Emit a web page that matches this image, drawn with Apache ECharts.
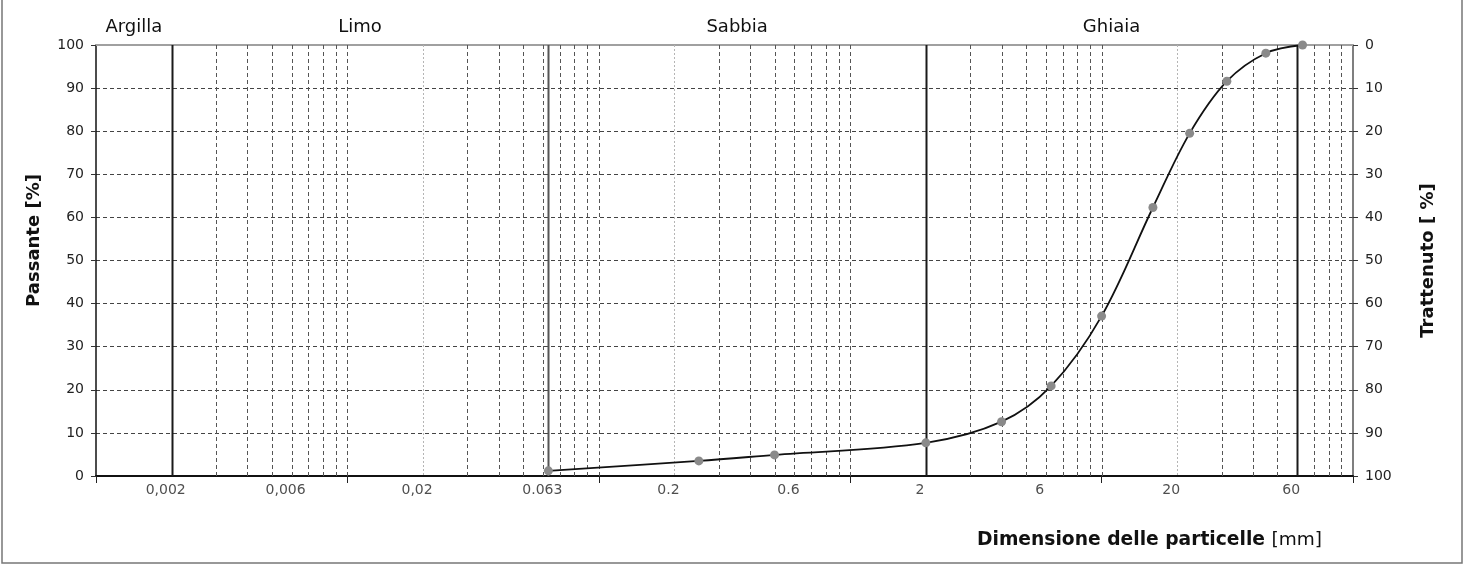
<!DOCTYPE html>
<html><head><meta charset="utf-8">
<script src="https://cdn.jsdelivr.net/npm/echarts@6/dist/echarts.min.js"></script>
<style>html,body{margin:0;padding:0;background:#fff}#c{width:1468px;height:576px}</style>
</head><body><div id="c"></div>
<script>
// ---- data ----
const sieveSizes = [0.063, 0.25, 0.5, 2, 4, 6.3, 10, 16, 22.4, 31.5, 45, 63];
const passing    = [1.2, 3.5, 4.9, 7.7, 12.6, 20.9, 37.1, 62.3, 79.5, 91.6, 98.1, 100];
const xTickValues = [0.002, 0.006, 0.02, 0.063, 0.2, 0.6, 2, 6, 20, 60];
const xTickLabels = ['0,002', '0,006', '0,02', '0.063', '0.2', '0.6', '2', '6', '20', '60'];
const classNames  = ['Argilla', 'Limo', 'Sabbia', 'Ghiaia'];
const classBounds = [0.001, 0.002, 0.063, 2, 60];
const xMin = 0.001, xMax = 100;

const FONT = 'DejaVu Sans';

// vertical grid lines: kind 0 = dashed dark, 1 = light dotted (2x), 2 = class boundary
const vLines = [];
for (let e = -3; e <= 1; e++) {
  for (let m = 1; m <= 9; m++) {
    if (e === -3 && m === 1) continue;
    const v = Number((m * Math.pow(10, e)).toPrecision(3));
    vLines.push([v, 0, m === 2 ? 1 : 0]);
  }
}
classBounds.slice(1).forEach(v => vLines.push([v, 0, v === 0.063 ? 3 : 2]));
const vStyles = [
  { stroke: '#555', lineWidth: 1, lineDash: [4, 3] },
  { stroke: '#b5b5b5', lineWidth: 1, lineDash: [2, 2] },
  { stroke: '#1a1a1a', lineWidth: 2 },
  { stroke: '#555', lineWidth: 2 }
];
const classAreas = classNames.map((n, i) => [
  { xAxis: classBounds[i], name: n }, { xAxis: classBounds[i + 1] }
]);

const chart = echarts.init(document.getElementById('c'), null, { renderer: 'canvas' });
chart.setOption({
  animation: false,
  backgroundColor: '#fff',
  textStyle: { fontFamily: FONT },
  grid: { left: 96, right: 115, top: 45, bottom: 100 },
  graphic: [{
    type: 'rect', shape: { x: 2, y: -4, width: 1460, height: 567 },
    style: { fill: 'none', stroke: '#777', lineWidth: 1.5 }, silent: true, z: -1
  }],
  xAxis: [{
    type: 'log', logBase: 10, min: xMin, max: xMax,
    axisLine: { show: true, lineStyle: { color: '#111', width: 2 } },
    axisTick: { show: true, length: 7, lineStyle: { color: '#222', width: 1 } },
    axisLabel: { show: false },
    splitLine: { show: false },
    name: '{b|Dimensione delle particelle }{r|[mm]}',
    nameLocation: 'end', nameGap: -31,
    nameTextStyle: {
      align: 'right', verticalAlign: 'top', padding: [55, 0, 0, 0],
      rich: {
        b: { fontFamily: FONT, fontWeight: 'bold', fontSize: 18.7, color: '#111' },
        r: { fontFamily: FONT, fontSize: 18.5, color: '#111' }
      }
    }
  }, {
    type: 'log', logBase: 10, min: xMin, max: xMax, position: 'top',
    axisLine: { show: true, lineStyle: { color: '#a0a0a0', width: 2 } },
    axisTick: { show: false }, axisLabel: { show: false }, splitLine: { show: false }
  }],
  yAxis: [{
    type: 'value', min: 0, max: 100, interval: 10, position: 'left',
    axisLine: { show: true, lineStyle: { color: '#111', width: 1.5 } },
    axisTick: { show: true, length: 5, lineStyle: { color: '#333' } },
    axisLabel: { fontSize: 14, color: '#222', margin: 12, fontFamily: FONT },
    splitLine: { show: true, lineStyle: { color: '#444', width: 1, type: [4, 3] } },
    name: 'Passante [%]', nameLocation: 'middle', nameGap: 53,
    nameTextStyle: { fontFamily: FONT, fontWeight: 'bold', fontSize: 18, color: '#111', padding: [0, 0, 0, 40] }
  }, {
    type: 'value', min: 0, max: 100, interval: 10, position: 'right', inverse: true,
    axisLine: { show: true, lineStyle: { color: '#555', width: 1.5 } },
    axisTick: { show: true, length: 5, lineStyle: { color: '#333' } },
    axisLabel: { fontSize: 14, color: '#222', margin: 12, fontFamily: FONT },
    splitLine: { show: false },
    name: 'Trattenuto [ %]', nameLocation: 'middle', nameGap: 66,
    nameTextStyle: { fontFamily: FONT, fontWeight: 'bold', fontSize: 18, color: '#111' }
  }],
  series: [{
    name: 'grid', type: 'custom', xAxisIndex: 0, yAxisIndex: 0, z: 1, silent: true,
    encode: { x: 0, y: 1 },
    data: vLines,
    renderItem: (params, api) => {
      const v = api.value(0);
      const p1 = api.coord([v, 100]);
      const p2 = api.coord([v, 0]);
      return {
        type: 'line', silent: true,
        shape: { x1: Math.round(p1[0]) + 0.5, y1: p1[1], x2: Math.round(p2[0]) + 0.5, y2: p2[1] },
        style: vStyles[api.value(2)]
      };
    },
    markArea: {
      silent: true, itemStyle: { color: 'rgba(0,0,0,0)' },
      label: { show: true, position: 'top', distance: 9, fontSize: 18, color: '#111', fontFamily: FONT },
      data: classAreas
    }
  }, {
    name: 'labels', type: 'scatter', xAxisIndex: 0, yAxisIndex: 0, z: 2, silent: true,
    symbolSize: 0,
    data: xTickValues.map((v, i) => ({ value: [v, 0], name: xTickLabels[i] })),
    label: {
      show: true, position: 'bottom', distance: 7, offset: [-6, 0],
      formatter: p => p.name, fontSize: 14, color: '#222', fontFamily: FONT
    }
  }, {
    name: 'Passante', type: 'line', xAxisIndex: 0, yAxisIndex: 0, z: 5,
    smooth: 0.35,
    symbol: 'circle', symbolSize: 9,
    itemStyle: { color: '#8a8a8a' },
    lineStyle: { color: '#111', width: 1.8 },
    data: sieveSizes.map((s, i) => [s, passing[i]])
  }]
});
</script></body></html>
